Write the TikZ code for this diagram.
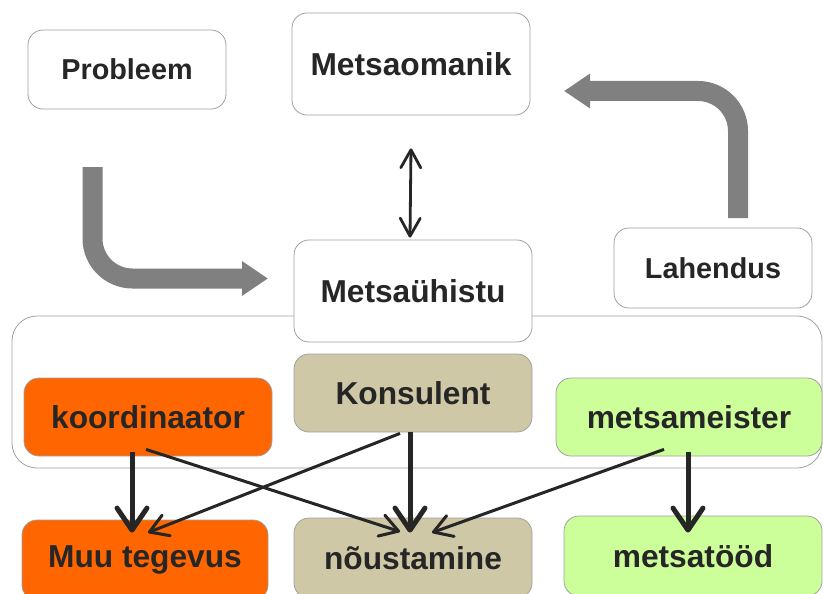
\documentclass[tikz,border=0pt]{standalone}
\usepackage{fontspec}
\setmainfont{Liberation Sans}
\usetikzlibrary{arrows.meta}
\definecolor{ink}{HTML}{262626}
\definecolor{rim}{HTML}{A0A0A0}
\definecolor{koordcol}{HTML}{FF6600}
\definecolor{konscol}{HTML}{CEC8A6}
\definecolor{meistcol}{HTML}{CCFF99}
\definecolor{flowcol}{HTML}{808080}
\tikzset{
  box/.style={draw=rim, line width=0.8pt, rounded corners=15pt, fill=white, text=ink,
    font=\fontsize{31.7}{36}\selectfont\bfseries, minimum height=78pt},
  smallbox/.style={box, font=\fontsize{28.8}{33}\selectfont\bfseries},
  fat/.style={ink, line width=5pt, -{Straight Barb[round,length=22pt,width=30pt,line width=5pt]}},
  thin/.style={ink, line width=3pt, -{Straight Barb[round,length=18pt,width=22pt,line width=3pt]}},
  flow/.style={flowcol, line width=20pt, rounded corners=40pt, -{Triangle[length=26pt,width=33pt]}}
}
\begin{document}
\begin{tikzpicture}[x=1pt, y=-1pt]
\useasboundingbox (0,0) rectangle (823,594);
\clip (0,0) rectangle (823,594);

\draw[rim, line width=0.8pt, rounded corners=25pt] (12,316) rectangle (822,468);

\node[smallbox, minimum width=198pt, minimum height=79pt] (prob) at (127,69.5) {Probleem};
\node[box, minimum width=238pt, minimum height=102pt] (omanik) at (411,64) {Metsaomanik};
\node[box, minimum width=238pt, minimum height=102pt] (yhistu) at (413,291) {Metsaühistu};
\node[smallbox, minimum width=198pt, minimum height=80pt] (lahendus) at (713,268) {Lahendus};

\node[box, fill=koordcol, minimum width=248pt] (koord) at (148,417) {koordinaator};
\node[box, fill=konscol, minimum width=238pt] (konsulent) at (413,393) {Konsulent};
\node[box, fill=meistcol, minimum width=266pt] (meister) at (689,417) {metsameister};

\node[box, fill=koordcol, minimum width=246pt, minimum height=80pt] (muu) at (145,560) {Muu tegevus};
\node[box, fill=konscol, minimum width=238pt, minimum height=80pt] (noust) at (413,558) {nõustamine};
\node[box, fill=meistcol, minimum width=258pt, minimum height=80pt] (tood) at (693,556) {metsatööd};

\coordinate (probout) at (92.5,167);
\coordinate (yhistuin) at (268,278.5);
\coordinate (lahout) at (738,218);
\coordinate (omanikin) at (564,91);
\draw[flow] (probout) |- (yhistuin);
\draw[flow] (lahout) |- (omanikin);

\path[ink, line width=2.8pt, {Straight Barb[round,length=18pt,width=20pt,line width=2.8pt]}-{Straight Barb[round,length=18pt,width=20pt,line width=2.8pt]}]
  ([yshift=-33pt]omanik.south) edge ([xshift=-3pt,yshift=2pt]yhistu.north);

\path[fat] ([xshift=-16pt,yshift=4pt]koord.south) edge ([xshift=-13pt,yshift=-13pt]muu.north);
\path[thin] ([xshift=-2pt,yshift=7pt]koord.south) edge ([xshift=-13pt,yshift=-14pt]noust.north);
\path[thin] ([xshift=-13pt,yshift=-1pt]konsulent.south) edge ([xshift=3pt,yshift=-13pt]muu.north);
\path[fat] ([xshift=-3pt]konsulent.south) edge ([xshift=-3pt,yshift=-15pt]noust.north);
\path[thin] ([xshift=-25pt,yshift=7pt]meister.south) edge ([xshift=19pt,yshift=-15pt]noust.north);
\path[fat] ([xshift=-1pt,yshift=4pt]meister.south) edge ([xshift=-5pt,yshift=-17pt]tood.north);
\end{tikzpicture}
\end{document}
